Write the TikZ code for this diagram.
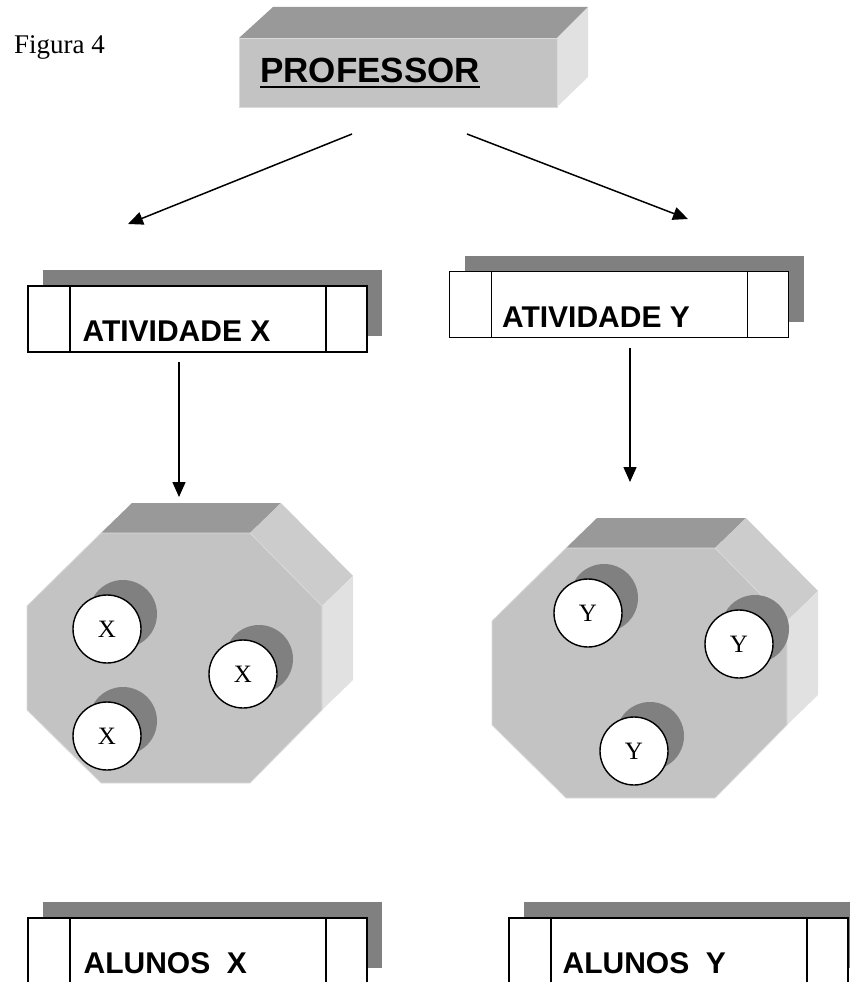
\documentclass[tikz,border=0pt]{standalone}
\usepackage{fontspec}
\setmainfont{Liberation Serif}
\setsansfont{Liberation Sans}
\usetikzlibrary{arrows.meta,shadows}
\definecolor{cinzasombra}{rgb}{0.502,0.502,0.502}
\definecolor{cinzatopo}{rgb}{0.600,0.600,0.600}
\definecolor{cinzafrente}{rgb}{0.765,0.765,0.765}
\definecolor{cinzadiag}{rgb}{0.800,0.800,0.800}
\definecolor{cinzalado}{rgb}{0.882,0.882,0.882}
\definecolor{cinzaborda}{rgb}{0.855,0.855,0.855}
\tikzstyle{caixa}=[draw=black,fill=white,line width=1.2pt,minimum width=339pt,minimum height=66pt,
  drop shadow={shadow xshift=15pt,shadow yshift=16pt,fill=cinzasombra,opacity=1},
  path picture={\draw[line width=1.2pt]
    ([xshift=42pt]path picture bounding box.north west) -- ([xshift=42pt]path picture bounding box.south west)
    ([xshift=-41pt]path picture bounding box.north east) -- ([xshift=-41pt]path picture bounding box.south east);}]
\tikzstyle{rotulo}=[anchor=base west,inner sep=0pt,font=\sffamily\bfseries\fontsize{30}{36}\selectfont]
\tikzstyle{aluno}=[circle,draw=black,fill=white,line width=1.4pt,minimum size=68pt,inner sep=0pt,
  font=\fontsize{25}{30}\selectfont,
  drop shadow={shadow xshift=16pt,shadow yshift=15pt,fill=cinzasombra,opacity=1}]
\tikzstyle{seta}=[line width=1.5pt,-{Triangle[length=15pt,width=13pt]}]

\begin{document}
\begin{tikzpicture}[x=1pt,y=-1pt]
	\useasboundingbox (0,0) rectangle (850,982);

	\node [anchor=base west,inner sep=0pt,font=\fontsize{27}{32}\selectfont] (figura) at (14,54) {Figura 4};

	% bloco do professor
	\fill [cinzatopo] (239,38) -- (273,7) -- (588,7) -- (557,38) -- cycle;
	\fill [cinzalado] (557,38) -- (588,7) -- (588,77) -- (557,107) -- cycle;
	\node [fill=cinzafrente,draw=cinzaborda,line width=0.8pt,minimum width=318pt,minimum height=69pt,inner sep=0pt] (prof) at (398,72.5) {};
	\node [rotulo,font=\sffamily\bfseries\fontsize{35}{42}\selectfont] (proftexto) at (260,82) {PROFESSOR};
	\draw [line width=2.7pt] ([yshift=-5pt]proftexto.base west) -- ([yshift=-5pt]proftexto.base east);

	% atividades
	\node [caixa] (ativx) at (197.5,319) {};
	\node [rotulo] (ativxtexto) at ([xshift=55pt,yshift=11pt]ativx.south west) {ATIVIDADE X};
	\node [caixa] (ativy) at (619,304.5) {};
	\node [rotulo] (ativytexto) at ([xshift=53pt,yshift=11pt]ativy.south west) {ATIVIDADE Y};

	\coordinate (profesq) at (352,134);
	\coordinate (profdir) at (467,134);
	\coordinate (ativxtopo) at (128,224);
	\coordinate (ativytopo) at (688,219);
	\draw [seta] (profesq) -- (ativxtopo);
	\draw [seta] (profdir) -- (ativytopo);

	% salas octogonais
	\foreach \dx/\dy in {0/0,465/15}{
	\begin{scope}[shift={(\dx,\dy)}]
		\fill [cinzatopo] (101,533) -- (132,503) -- (281,503) -- (250,533) -- cycle;
		\fill [cinzadiag] (250,533) -- (281,503) -- (353,576) -- (322,606) -- cycle;
		\fill [cinzalado] (322,606) -- (353,576) -- (353,680) -- (322,710) -- cycle;
		\filldraw [fill=cinzafrente,draw=cinzaborda,line width=0.8pt] (101,533) -- (250,533) -- (322,606) -- (322,710)
			-- (250,783) -- (101,783) -- (27,710) -- (27,606) -- cycle;
	\end{scope}}

	\coordinate (ativxbase) at (179,362);
	\coordinate (salaxtopo) at (179,497);
	\coordinate (ativybase) at (630,348);
	\coordinate (salaytopo) at (630,482);
	\draw [seta] (ativxbase) -- (salaxtopo);
	\draw [seta] (ativybase) -- (salaytopo);

	\node [aluno] (x1) at (107,629) {X};
	\node [aluno] (x2) at (243,674) {X};
	\node [aluno] (x3) at (107,736) {X};
	\node [aluno] (y1) at (588,613) {Y};
	\node [aluno] (y2) at (739,644) {Y};
	\node [aluno] (y3) at (634,751) {Y};

	% alunos
	\node [caixa] (alunx) at (197.5,951) {};
	\node [rotulo] (alunxtexto) at ([xshift=56pt,yshift=11pt]alunx.south west) {ALUNOS\ \ X};
	\node [caixa] (aluny) at (678.5,951) {};
	\node [rotulo] (alunytexto) at ([xshift=54pt,yshift=11pt]aluny.south west) {ALUNOS\ \ Y};
\end{tikzpicture}
\end{document}
